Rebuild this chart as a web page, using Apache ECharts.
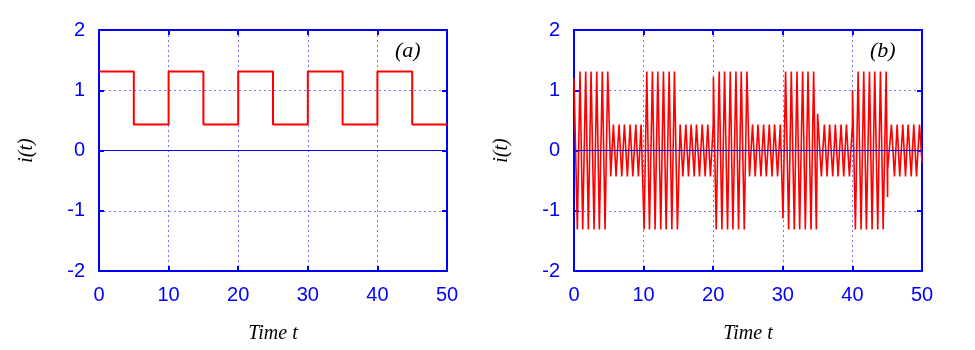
<!DOCTYPE html>
<html>
<head>
<meta charset="utf-8">
<script src="https://cdn.jsdelivr.net/npm/echarts@6/dist/echarts.min.js"></script>
<style>
  html, body { margin: 0; padding: 0; background: #fff; }
  #chartData { width: 975px; height: 350px; }
</style>
</head>
<body>
<div id="chartData"></div>
<script>
// 数据 (a): 方波
var squareTime = [0, 5, 5, 10, 10, 15, 15, 20, 20, 25, 25, 30, 30, 35, 35, 40, 40, 45, 45, 50];
var squareCurrent = [1.31, 1.31, 0.43, 0.43, 1.31, 1.31, 0.43, 0.43, 1.31, 1.31,
    0.43, 0.43, 1.31, 1.31, 0.43, 0.43, 1.31, 1.31, 0.43, 0.43];

// 数据 (b): 调制后的振荡 (读取的峰值位置)
var waveTime = [
    0, 0.48, 0.86, 1.25, 1.68, 2.06, 2.45, 2.88, 3.27, 3.64, 4.07, 4.46, 4.85,
    5.28, 5.66, 6.04, 6.47, 6.86, 7.24, 7.67, 8.06, 8.45, 8.88, 9.25, 9.64,
    10.07, 10.46, 10.84, 11.27, 11.65, 12.04, 12.47, 12.85, 13.24, 13.67, 14.06, 14.43, 14.86,
    15.25, 15.64, 16.07, 16.45, 16.83, 17.27, 17.6, 18.03, 18.42, 18.85, 19.22, 19.6, 20.0,
    20.03, 20.43, 20.86, 21.25, 21.63, 22.06, 22.45, 22.83, 23.27, 23.64, 24.03, 24.46, 24.85,
    25.22, 25.65, 26.04, 26.43, 26.86, 27.24, 27.63, 28.06, 28.45, 28.82, 29.25, 29.64,
    30.03, 30.4, 30.84, 31.22, 31.65, 32.04, 32.42, 32.85, 33.24, 33.62, 34.06, 34.43, 34.82,
    35.0, 35.54, 35.97, 36.36, 36.73, 37.17, 37.55, 37.94, 38.37, 38.75, 39.14, 39.57, 40.0,
    40.02, 40.43, 40.82, 41.25, 41.63, 42.01, 42.45, 42.83, 43.21, 43.64, 44.03, 44.42, 44.85,
    45.05, 45.07, 45.61, 46.04, 46.43, 46.8, 47.24, 47.63, 48.01, 48.45, 48.82, 49.21, 49.64, 50
];
var waveCurrent = [
    1.2, -1.31, 1.31, -1.31, 1.31, -1.31, 1.31, -1.31, 1.31, -1.31, 1.31, -1.31, 1.31,
    -0.43, 0.43, -0.43, 0.43, -0.43, 0.43, -0.43, 0.43, -0.43, 0.43, -0.43, 0.43,
    -1.31, 1.31, -1.31, 1.31, -1.31, 1.31, -1.31, 1.31, -1.31, 1.31, -1.31, 1.31, -1.31,
    0.43, -0.43, 0.43, -0.43, 0.43, -0.43, 0.43, -0.43, 0.43, -0.43, 0.43, -0.43, 0.43,
    1.22, -1.31, 1.31, -1.31, 1.31, -1.31, 1.31, -1.31, 1.31, -1.31, 1.31, -1.31, 1.31,
    -0.43, 0.43, -0.43, 0.43, -0.43, 0.43, -0.43, 0.43, -0.43, 0.43, -0.43, 0.43,
    -1.13, 1.31, -1.31, 1.31, -1.31, 1.31, -1.31, 1.31, -1.31, 1.31, -1.31, 1.31, -1.31,
    0.61, -0.43, 0.43, -0.43, 0.43, -0.43, 0.43, -0.43, 0.43, -0.43, 0.43, -0.43, 0.43,
    1.0, -1.31, 1.31, -1.31, 1.31, -1.31, 1.31, -1.31, 1.31, -1.31, 1.31, -1.31, 1.31,
    -0.77, -0.3, 0.43, -0.43, 0.43, -0.43, 0.43, -0.43, 0.43, -0.43, 0.43, -0.43, 0.43, -0.2
];

var panelLabels = ['(a)', '(b)'];
var xName = 'Time t';
var yName = 'i(t)';

function pairs(xs, ys) {
    var out = [];
    for (var i = 0; i < xs.length; i++) {
        out.push([xs[i], ys[i]]);
    }
    return out;
}

var blue = '#0000ff';
var frameLine = { show: true, onZero: false, lineStyle: { color: blue, width: 2 } };
var inTick = { show: true, inside: true, length: 5, lineStyle: { color: blue, width: 2 } };
var gridDot = { show: true, lineStyle: { color: '#7777ff', type: [2, 3], width: 1 } };
var tickFont = { color: blue, fontSize: 20, fontFamily: 'Liberation Sans' };
var nameFont = { color: '#000', fontSize: 20, fontFamily: 'Liberation Serif', fontStyle: 'italic' };

function bottomAxis(g) {
    return {
        type: 'value', gridIndex: g, position: 'bottom', min: 0, max: 50, interval: 10,
        axisLine: frameLine, axisTick: inTick,
        axisLabel: Object.assign({ margin: 14 }, tickFont),
        splitLine: gridDot,
        name: xName, nameLocation: 'middle', nameGap: 53, nameTextStyle: nameFont
    };
}
function topAxis(g) {
    return {
        type: 'value', gridIndex: g, position: 'top', min: 0, max: 50, interval: 10,
        axisLine: frameLine, axisTick: inTick,
        axisLabel: { show: false }, splitLine: { show: false }
    };
}
function leftAxis(g) {
    return {
        type: 'value', gridIndex: g, position: 'left', min: -2, max: 2, interval: 1,
        axisLine: frameLine, axisTick: inTick,
        axisLabel: Object.assign({ margin: 14 }, tickFont),
        splitLine: gridDot,
        name: yName, nameLocation: 'middle', nameGap: 62, nameRotate: 90, nameTextStyle: nameFont
    };
}
function rightAxis(g) {
    return {
        type: 'value', gridIndex: g, position: 'right', min: -2, max: 2, interval: 1,
        axisLine: frameLine, axisTick: inTick,
        axisLabel: { show: false }, splitLine: { show: false }
    };
}

var zeroLine = {
    silent: true, symbol: ['none', 'none'], animation: false,
    label: { show: false },
    lineStyle: { color: blue, type: 'solid', width: 1 },
    data: [{ yAxis: 0 }]
};

var myChart = echarts.init(document.getElementById('chartData'));

var option = {
    animation: false,
    backgroundColor: '#fff',
    grid: [
        { left: 99, top: 30, width: 348, height: 241 },
        { left: 574, top: 30, width: 348, height: 241 }
    ],
    xAxis: [bottomAxis(0), bottomAxis(1), topAxis(0), topAxis(1)],
    yAxis: [leftAxis(0), leftAxis(1), rightAxis(0), rightAxis(1)],
    graphic: [
        { type: 'text', left: 395, top: 40, style: { text: panelLabels[0], fill: '#000', font: 'italic 22px "Liberation Serif"' } },
        { type: 'text', left: 870, top: 40, style: { text: panelLabels[1], fill: '#000', font: 'italic 22px "Liberation Serif"' } }
    ],
    series: [
        {
            name: 'a', type: 'line', xAxisIndex: 0, yAxisIndex: 0,
            showSymbol: false, symbol: 'none',
            lineStyle: { color: '#ff0000', width: 2 },
            data: pairs(squareTime, squareCurrent),
            markLine: zeroLine
        },
        {
            name: 'b', type: 'line', xAxisIndex: 1, yAxisIndex: 1,
            showSymbol: false, symbol: 'none',
            lineStyle: { color: '#ff0000', width: 1.6 },
            data: pairs(waveTime, waveCurrent),
            markLine: zeroLine
        }
    ]
};

myChart.setOption(option);
</script>
</body>
</html>
